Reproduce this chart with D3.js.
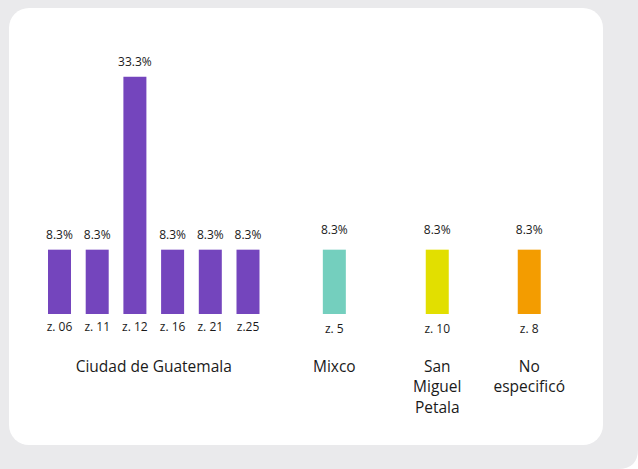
<!DOCTYPE html>
<html>
<head>
<meta charset="utf-8">
<script src="https://cdn.jsdelivr.net/npm/d3@7"></script>
<style>
  html, body { margin: 0; padding: 0; background: #ffffff; }
  svg { display: block; }
  text { font-family: "Open Sans", "Noto Sans", sans-serif; fill: #1a1a1a; }
</style>
</head>
<body>
<svg id="chart" width="638" height="469"></svg>
<script>
// Zones surveyed, grouped by municipality
const groups = ["Ciudad de Guatemala", "Mixco", "San Miguel Petala", "No especificó"];
const groupLines = [["Ciudad de Guatemala"], ["Mixco"], ["San", "Miguel", "Petala"], ["No", "especificó"]];
const zones = ["z. 06", "z. 11", "z. 12", "z. 16", "z. 21", "z.25", "z. 5", "z. 10", "z. 8"];
const zoneGroup = [0, 0, 0, 0, 0, 0, 1, 2, 3];
const values = [8.3, 8.3, 33.3, 8.3, 8.3, 8.3, 8.3, 8.3, 8.3];
const groupColors = ["#7445bd", "#74cfbe", "#e2df00", "#f39c00"];

// Distance (in bar slots) from the previous group's last bar to each group's first bar
const groupStep = [0, 2.29, 2.73, 2.44];

const W = 638, H = 469;
const svg = d3.select("#chart");

// Page background and card
svg.append("path")
  .attr("d", `M0,0 H${W} V${H - 20} Q${W},${H} ${W - 20},${H} H0 Z`)
  .attr("fill", "#eaeaec");
svg.append("rect")
  .attr("x", 9).attr("y", 8).attr("width", 594).attr("height", 437)
  .attr("rx", 20).attr("ry", 20)
  .attr("fill", "#ffffff");

// Slot index of every bar: consecutive within a group, wider steps between groups
const slots = [];
let cursor = 0;
zones.forEach((z, i) => {
  if (i > 0) cursor += zoneGroup[i] !== zoneGroup[i - 1] ? groupStep[zoneGroup[i]] : 1;
  slots.push(cursor);
});

const x = d3.scaleLinear().domain([0, 5]).range([59.5, 248]);
const y = d3.scaleLinear().domain([-1, 35]).range([314, 65]);
const barW = 23;

const data = zones.map((z, i) => ({ zone: z, value: values[i], group: zoneGroup[i], slot: slots[i] }));

// Bars
svg.append("g").selectAll("rect")
  .data(data)
  .join("rect")
  .attr("x", d => x(d.slot) - barW / 2)
  .attr("y", d => y(d.value))
  .attr("width", barW)
  .attr("height", d => y(-1) - y(d.value))
  .attr("fill", d => groupColors[d.group]);

// Value labels
svg.append("g").selectAll("text")
  .data(data)
  .join("text")
  .attr("x", d => x(d.slot))
  .attr("y", d => y(d.value) - (d.group === 0 ? 10.5 : 16))
  .attr("text-anchor", "middle")
  .attr("font-size", 12)
  .text(d => d.value.toFixed(1) + "%");

// Zone labels under the bars
svg.append("g").selectAll("text")
  .data(data)
  .join("text")
  .attr("x", d => x(d.slot))
  .attr("y", d => y(-1) + (d.group === 0 ? 17 : 19))
  .attr("text-anchor", "middle")
  .attr("font-size", 12)
  .text(d => d.zone);

// Municipality labels centred under each group
const groupCenters = groups.map((g, gi) => d3.mean(data.filter(d => d.group === gi), d => x(d.slot)));
const gl = svg.append("g").selectAll("text")
  .data(groups)
  .join("text")
  .attr("x", (g, gi) => groupCenters[gi])
  .attr("y", 372)
  .attr("text-anchor", "middle")
  .attr("font-size", 15.5);
gl.each(function(g, gi) {
  d3.select(this).selectAll("tspan")
    .data(groupLines[gi])
    .join("tspan")
    .attr("x", groupCenters[gi])
    .attr("dy", (t, k) => k === 0 ? 0 : 20.3)
    .text(t => t);
});
</script>
</body>
</html>
